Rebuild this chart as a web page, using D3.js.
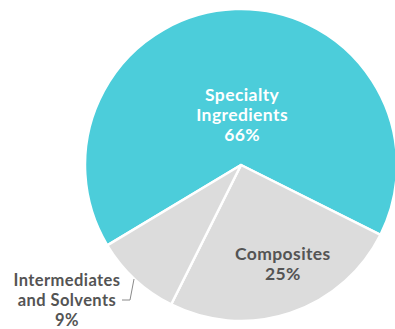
<!DOCTYPE html>
<html>
<head>
<meta charset="utf-8">
<script src="https://cdn.jsdelivr.net/npm/d3@7"></script>
<style>
  body { margin: 0; background: #fff; }
  svg { display: block; font-family: Lato, "DejaVu Sans", sans-serif; }
</style>
</head>
<body>
<svg></svg>
<script>
// slice data
let categories = ['Specialty Ingredients', 'Composites', 'Intermediates and Solvents'];
let values = [66, 25, 9];
let labelLines = [['Specialty', 'Ingredients', '66%'], ['Composites', '25%'], ['Intermediates', 'and Solvents', '9%']];

let w = 395;
let h = 329;
let cx = 241;
let cy = 165;
let radius = 156;
let colors = ['#4ccdda', '#dcdcdc', '#dcdcdc'];

let svg = d3.select('svg')
    .attr('width', w)
    .attr('height', h);

let pieData = d3.pie()
    .sort(null)
    .startAngle(-121 * Math.PI / 180)
    .endAngle(239 * Math.PI / 180)
    .value((d, i) => values[i])(categories);

let arc = d3.arc()
    .innerRadius(0)
    .outerRadius(radius);

let g = svg.append('g')
    .attr('transform', 'translate(' + cx + ',' + cy + ')');

g.selectAll('path')
    .data(pieData)
    .enter()
    .append('path')
    .attr('d', arc)
    .attr('fill', (d, i) => colors[i])
    .attr('stroke', '#fff')
    .attr('stroke-width', 2.5)
    .attr('stroke-linejoin', 'round');

// label anchor points: first two inside, the small one outside on the left
let labelArc0 = d3.arc().innerRadius(50).outerRadius(50);
let labelArc1 = d3.arc().innerRadius(104).outerRadius(104);

let c0 = labelArc0.centroid(pieData[0]);
let c1 = labelArc1.centroid(pieData[1]);
let anchors = [
    [c0[0] + 3, c0[1]],
    [c1[0] + 9, c1[1]],
    [67 - cx, 300 - cy]
];

let lineH = 20;
pieData.forEach((d, i) => {
    let lines = labelLines[i];
    let t = g.append('text')
        .attr('text-anchor', 'middle')
        .attr('font-size', i == 2 ? 16.5 : 17.5)
        .attr('font-weight', 'bold')
        .attr('letter-spacing', 0.4)
        .attr('fill', i == 0 ? '#ffffff' : '#545454');
    lines.forEach((s, j) => {
        t.append('tspan')
            .attr('x', anchors[i][0])
            .attr('y', anchors[i][1] + (j - (lines.length - 1) / 2) * lineH + 6)
            .text(s);
    });
});

// leader line for the small slice
g.append('polyline')
    .attr('points', [[122 - cx, 300 - cy], [130 - cx, 300 - cy], [134 - cx, 279 - cy]].map(p => p.join(',')).join(' '))
    .attr('fill', 'none')
    .attr('stroke', '#8a8a8a')
    .attr('stroke-width', 1);
</script>
</body>
</html>
